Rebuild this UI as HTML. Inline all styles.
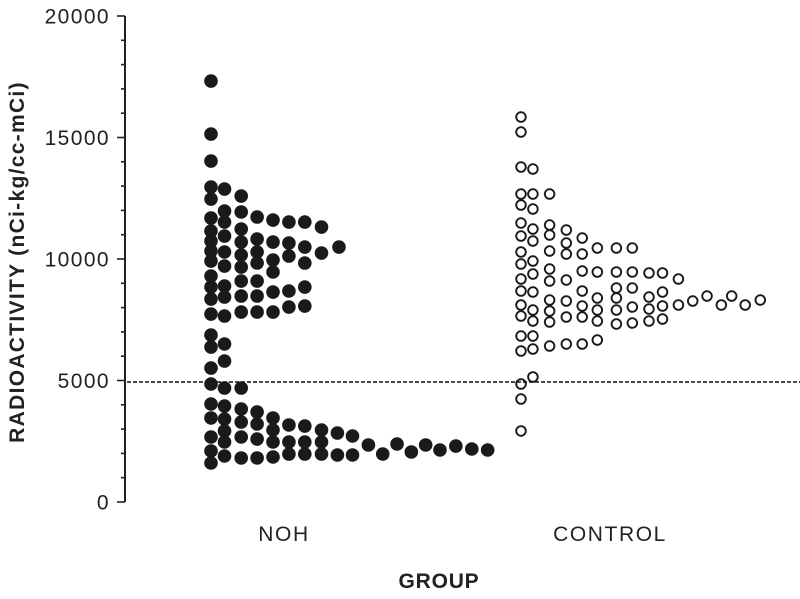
<!DOCTYPE html>
<html><head><meta charset="utf-8"><style>
html,body{margin:0;padding:0;background:#fff;}
svg{display:block;font-family:"Liberation Sans",Arial,sans-serif;}
</style></head><body>
<svg id="chart" width="800" height="599" viewBox="0 0 800 599">
<g id="axis"></g>
<g id="dots"></g>
<line x1="127" x2="800" y1="382" y2="382" stroke="#111" stroke-width="1.5" stroke-dasharray="4,2"/>
<text x="284" y="541" font-size="21" letter-spacing="1.6" text-anchor="middle" fill="#222">NOH</text>
<text x="610" y="541" font-size="21" letter-spacing="1.6" text-anchor="middle" fill="#222">CONTROL</text>
<text x="439" y="588" font-size="21" font-weight="bold" letter-spacing="0.8" text-anchor="middle" fill="#222">GROUP</text>
<text transform="translate(24,262) rotate(-90)" font-size="21" font-weight="bold" letter-spacing="1.3" text-anchor="middle" fill="#222">RADIOACTIVITY (nCi-kg/cc-mCi)</text>
</svg>
<script>
const yTicks = [0, 5000, 10000, 15000, 20000];
const groups = ["NOH", "CONTROL"];
const nohValues = [17324,15143,14032,12962,12468,11687,11152,10740,10329,9917,9300,8847,8353,7736,6872,6378,5514,4856,4033,3457,2675,2099,1605,
 12880,11975,11522,10946,10288,9711,8888,8436,7654,6502,5802,4691,3950,3415,2922,2469,1893,
 12592,11934,11234,10699,10164,9670,9094,8477,7818,4691,3827,3292,2675,1811,
 11728,10822,10288,9835,9094,8477,7818,3703,3210,2592,1811,
 11604,10699,9958,9465,8641,7818,3457,2963,2469,1852,
 11522,10658,10123,8683,8024,3169,2469,1975,
 11522,10493,9835,8847,8065,3127,2469,1975,
 11316,10246,2963,2469,1975,
 10493,2839,1934,
 2716,1934,
 2346,1975,2387,2058,2346,2140,2304,2181,2140];
const nohSlots = [0,0,0,0,0,0,0,0,0,0,0,0,0,0,0,0,0,0,0,0,0,0,0,
 0.85,0.85,0.85,0.85,0.85,0.85,0.85,0.85,0.85,0.85,0.85,0.85,0.85,0.85,0.85,0.85,0.85,
 1.9,1.9,1.9,1.9,1.9,1.9,1.9,1.9,1.9,1.9,1.9,1.9,1.9,1.9,
 2.9,2.9,2.9,2.9,2.9,2.9,2.9,2.9,2.9,2.9,2.9,
 3.9,3.9,3.9,3.9,3.9,3.9,3.9,3.9,3.9,3.9,
 4.9,4.9,4.9,4.9,4.9,4.9,4.9,4.9,
 5.9,5.9,5.9,5.9,5.9,5.9,5.9,5.9,
 6.95,6.95,6.95,6.95,6.95,
 8.05,7.95,7.95,
 8.9,8.9,
 9.9,10.8,11.7,12.6,13.5,14.4,15.4,16.4,17.4];
const ctlValues = [15843,15226,13785,12674,12222,11481,10946,10288,9794,9176,8683,8107,7654,6831,6214,4856,4238,2922,
 13703,12674,12057,11234,10740,9917,9382,8641,7901,7448,6831,6296,5144,
 12674,11398,10987,10329,9588,9094,8312,7860,7407,6419,
 11193,10658,10205,9135,8271,7613,6502,
 10864,10205,9506,8683,8065,7613,6502,
 10452,9465,8394,7901,7448,6666,
 10452,9465,8806,8394,7901,7325,
 10452,9465,8806,8024,7366,
 9424,8436,7942,7448,
 9424,8641,8065,7530,
 9176,8107,
 8271,8477,8107,8477,8107,8312];
const ctlSlots = [0,0,0,0,0,0,0,0,0,0,0,0,0,0,0,0,0,0,
 0.75,0.75,0.75,0.75,0.75,0.75,0.75,0.75,0.75,0.75,0.75,0.75,0.75,
 1.8,1.8,1.8,1.8,1.8,1.8,1.8,1.8,1.8,1.8,
 2.85,2.85,2.85,2.85,2.85,2.85,2.85,
 3.85,3.85,3.85,3.85,3.85,3.85,3.85,
 4.8,4.8,4.8,4.8,4.8,4.8,
 6,6,6,6,6,6,
 7,7,7,7,7,
 8.05,8.05,8.05,8.05,
 8.9,8.9,8.9,8.9,
 9.9,9.9,
 10.8,11.7,12.6,13.25,14.1,15.05];
const NS = "http://www.w3.org/2000/svg";
function yScale(v){ return 502 - v / 20000 * 486; }
function xScale(group, slot){ return (group === 0 ? 211 : 521) + slot * 15.9; }
const axis = document.getElementById("axis");
const dots = document.getElementById("dots");
function mk(tag, attrs, parent){ const e = document.createElementNS(NS, tag); for (const k in attrs) e.setAttribute(k, attrs[k]); parent.appendChild(e); return e; }
const al = mk("line", {x1:125, x2:125, y1:yScale(20000), y2:yScale(0), stroke:"#222", "stroke-width":2}, axis);


for (let v = 0; v <= 20000; v += 1000) {
  const major = v % 5000 === 0;
  const t = mk("line", {x1: major ? 117 : 121, x2:125, y1:yScale(v), y2:yScale(v), stroke:"#222", "stroke-width":1.6}, axis);
  
  
}
yTicks.forEach(v => {
  const t = mk("text", {x:110, y:yScale(v) + 7.5, "font-size":21, "letter-spacing":1.4, "text-anchor":"end", fill:"#222"}, axis);
  t.textContent = String(v);
  
  
});
nohValues.forEach((v, i) => {
  const c = mk("circle", {cx:xScale(0, nohSlots[i]), cy:yScale(v), r:6.8, fill:"#1a1a1a"}, dots);
  
  
});
ctlValues.forEach((v, i) => {
  const c = mk("circle", {cx:xScale(1, ctlSlots[i]), cy:yScale(v), r:4.8, fill:"#fff", stroke:"#1a1a1a", "stroke-width":1.9}, dots);
  
  
});
</script>
</body></html>
